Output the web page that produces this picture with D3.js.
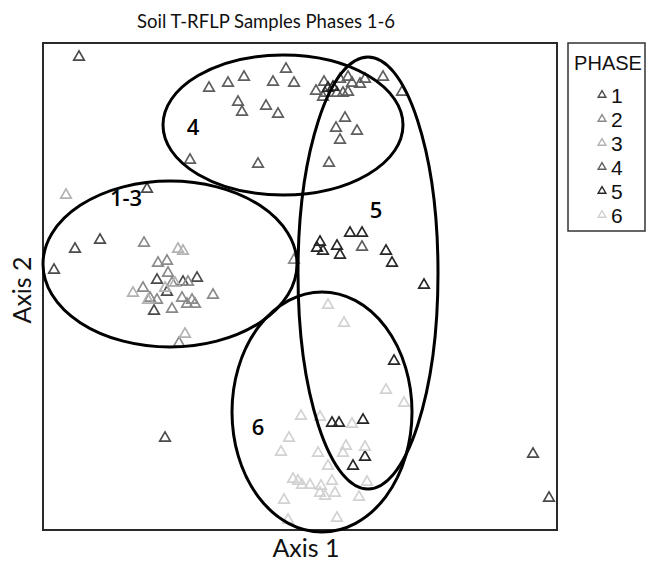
<!DOCTYPE html>
<html><head><meta charset="utf-8">
<script src="https://cdn.jsdelivr.net/npm/d3@7"></script>
<style>body{margin:0;background:#fff}svg{display:block}</style>
</head><body>
<svg id="chart" width="650" height="562"></svg>
<script>
// ---- data (NMDS-like axis units) ----
const phases = ["1","2","3","4","5","6"];
const phaseColors = ["#4a4a4a","#8a8a8a","#b2b2b2","#5e5e5e","#262626","#d2d2d2"];
const phase1 = [[-1.53,0.97],[-2.00,0.46],[-2.25,0.37],[-2.46,0.16],[-1.43,0.06],[-1.17,0.04],[-1.03,0.08],[-1.33,-0.06],[-1.46,-0.25],[-1.35,-1.52],[2.33,-1.68],[2.49,-2.12],[-2.21,2.29]];
const phase2 = [[-1.56,0.43],[-1.42,0.23],[-1.33,0.25],[-1.32,0.13],[-1.28,0.03],[-1.12,0.04],[-1.57,-0.02],[-1.50,-0.12],[-1.43,-0.14],[-1.18,-0.12],[-1.08,-0.14],[-1.05,-0.18],[-0.87,-0.09],[-1.28,-0.23],[-1.21,-0.57],[-0.06,0.26],[-1.13,-0.18]];
const phase3 = [[-1.22,0.37],[-1.17,0.35],[-1.67,-0.07],[-1.52,-0.14],[-1.25,0.03],[-1.15,-0.48],[-2.34,0.91],[-1.35,-0.02]];
const phase4 = [[-0.91,1.98],[-0.72,2.03],[-0.56,2.09],[-0.27,2.04],[-0.14,2.17],[-0.06,2.03],[-0.62,1.84],[-0.58,1.74],[-0.34,1.80],[-0.22,1.72],[-1.10,1.26],[-0.42,1.22],[0.16,1.95],[0.24,2.04],[0.40,2.07],[0.48,2.09],[0.52,2.03],[0.60,2.02],[0.65,2.07],[0.83,2.09],[1.02,1.94],[0.37,1.93],[0.43,1.93],[0.48,1.94],[0.25,1.93],[0.23,1.89],[0.45,1.68],[0.36,1.58],[0.57,1.55],[0.40,1.46],[0.29,1.23],[0.62,0.39]];
const phase5 = [[0.28,1.98],[0.33,1.99],[0.50,0.53],[0.62,0.53],[0.20,0.44],[0.17,0.38],[0.23,0.35],[0.37,0.40],[0.40,0.31],[0.86,0.35],[0.92,0.23],[1.24,0.01],[0.94,-0.75],[0.32,-1.37],[0.39,-1.37],[0.63,-1.34],[0.65,-1.71],[0.53,-1.80]];
const phase6 = [[0.28,-0.19],[0.44,-0.37],[0.86,-1.04],[1.04,-1.17],[0.01,-1.30],[0.20,-1.31],[0.52,-1.38],[0.46,-1.60],[0.65,-1.61],[0.43,-1.67],[0.18,-1.67],[0.28,-1.80],[0.32,-1.95],[0.67,-1.96],[-0.07,-1.93],[-0.02,-1.95],[0.02,-1.99],[0.10,-1.99],[0.21,-2.00],[0.20,-2.07],[0.25,-2.10],[0.35,-2.07],[0.59,-2.11],[0.37,-2.32],[-0.11,-1.52],[-0.19,-1.66],[-0.16,-2.14],[-0.12,-2.34]];
const phaseData = [phase1, phase2, phase3, phase4, phase5, phase6];
// ellipses: label, centre x, centre y, radius x, radius y
const ellipseLabels = ["4","1-3","5","6"];
const ellipseCx = [-0.17,-1.30,0.68,0.22];
const ellipseCy = [1.61,0.22,0.13,-1.26];
const ellipseRx = [1.20,1.27,0.70,0.90];
const ellipseRy = [0.70,0.83,2.16,1.20];
const ellipseLabelPos = [[-1.07,1.59],[-1.74,0.88],[0.76,0.76],[-0.42,-1.41]];
const xDomain = [-2.57, 2.57];
const yDomain = [-2.44, 2.43];

const svg = d3.select("#chart");
const plot = {left:43, right:557, top:43, bottom:530};
const x = d3.scaleLinear().domain(xDomain).range([plot.left, plot.right]);
const y = d3.scaleLinear().domain(yDomain).range([plot.bottom, plot.top]);
const font = "'Open Sans', Lato, sans-serif";
const lato = "Lato, 'Open Sans', sans-serif";

// title
svg.append("text").attr("x", 266).attr("y", 28).attr("text-anchor","middle")
  .style("font-family",lato).style("font-size","18.5px").attr("fill","#111")
  .text("Soil T-RFLP Samples Phases 1-6");

// frame
svg.append("rect").attr("x", plot.left).attr("y", plot.top)
  .attr("width", plot.right-plot.left).attr("height", plot.bottom-plot.top)
  .attr("fill","none").attr("stroke","#2a2a2a").attr("stroke-width",2);

// points
const tri = d3.symbol().type(d3.symbolTriangle).size(48);
const pts = svg.append("g");
phaseData.forEach((arr, i) => {
  pts.selectAll(null).data(arr).enter().append("path")
    .attr("d", tri)
    .attr("transform", d => `translate(${x(d[0])},${y(d[1])})`)
    .attr("fill","none").attr("stroke", phaseColors[i]).attr("stroke-width",1.7);
});

// ellipses
const eg = svg.append("g");
ellipseLabels.forEach((lab, i) => {
  eg.append("ellipse")
    .attr("cx", x(ellipseCx[i])).attr("cy", y(ellipseCy[i]))
    .attr("rx", x(ellipseCx[i]+ellipseRx[i]) - x(ellipseCx[i]))
    .attr("ry", y(ellipseCy[i]-ellipseRy[i]) - y(ellipseCy[i]))
    .attr("fill","none").attr("stroke","#000").attr("stroke-width",3);
  eg.append("text").attr("x", x(ellipseLabelPos[i][0])).attr("y", y(ellipseLabelPos[i][1]))
    .attr("text-anchor","middle").attr("dy","0.36em")
    .style("font-family",font).style("font-size","22px").style("font-weight","600").attr("fill","#000")
    .text(lab);
});

// axis labels
svg.append("text").attr("x", 306).attr("y", 557).attr("text-anchor","middle")
  .style("font-family",lato).style("font-size","25px").attr("fill","#111").text("Axis 1");
svg.append("text").attr("transform","translate(31,290) rotate(-90)").attr("text-anchor","middle")
  .style("font-family",lato).style("font-size","25px").attr("fill","#111").text("Axis 2");

// legend
const lg = svg.append("g");
lg.append("rect").attr("x",568).attr("y",43).attr("width",77).attr("height",188)
  .attr("fill","none").attr("stroke","#333").attr("stroke-width",1.5);
lg.append("text").attr("x",608).attr("y",70).attr("text-anchor","middle")
  .style("font-family","'Liberation Sans', Arial, sans-serif").style("font-size","20px").attr("fill","#111").text("PHASE");
const legTri = d3.symbol().type(d3.symbolTriangle).size(26);
const ly = d3.scalePoint().domain(phases).range([95, 215]);
phases.forEach((p, i) => {
  lg.append("path").attr("d", legTri).attr("transform", `translate(602,${ly(p)})`)
    .attr("fill","none").attr("stroke", phaseColors[i]).attr("stroke-width",1.4);
  lg.append("text").attr("x",611).attr("y",ly(p)).attr("dy","0.36em")
    .style("font-family","'Liberation Sans', Arial, sans-serif").style("font-size","21px").attr("fill","#111").text(p);
});
</script>
</body></html>
